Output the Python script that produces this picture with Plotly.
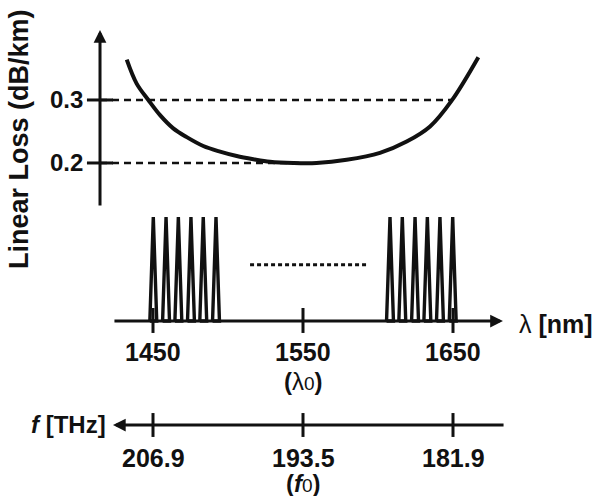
import plotly.graph_objects as go

# ---------------- data ----------------
# Linear loss curve of the fibre (wavelength nm -> loss dB/km)
loss_wl = [1432.5, 1439.1, 1446.9, 1454.7, 1463.5, 1472.5, 1483.5, 1494.7, 1505.8,
           1516.9, 1528.0, 1543.5, 1559.0, 1579.1, 1601.3, 1619.1, 1634.7, 1649.1, 1666.9]
loss_db = [0.364, 0.326, 0.300, 0.276, 0.255, 0.241, 0.227, 0.218, 0.211,
           0.206, 0.202, 0.200, 0.200, 0.205, 0.216, 0.234, 0.258, 0.299, 0.368]

loss_ticks = [0.2, 0.3]
loss_ticktext = ["0.2", "0.3"]
loss_ref_end = [1548.0, 1649.1]      # dashed guides end where they meet the curve

# WDM channels (peak wavelengths, nm) and their relative power
left_channels = [1450.2, 1458.7, 1466.9, 1475.3, 1483.5, 1492.0]
right_channels = [1608.0, 1616.2, 1624.7, 1632.9, 1641.3, 1649.8]
channel_power = 1.0
gap_dots = [1514.7, 1592.7]          # dotted "more channels" span
gap_level = 0.54

wl_ticks = [1450, 1550, 1650]
wl_ticktext = ["1450", "1550", "1650"]
freq_ticktext = ["206.9", "193.5", "181.9"]

# ---------------- layout constants ----------------
X_RANGE = [1348, 1746]
LOSS_RANGE = [-0.3286, 0.4587]
PWR_RANGE = [-1.6827, 3.0865]
LOSS_AXIS_X = 1414.67
LOSS_AXIS_SPAN = [0.130, 0.411]
WL_AXIS_SPAN = [1423.3, 1683.3]
F_AXIS_SPAN = [1423.3, 1684.7]
F_AXIS_Y = -1.0
CH_HALF = 2.3
BLACK = "#111111"
FONT = "Liberation Sans, Arial, sans-serif"

fig = go.Figure()

# loss curve
fig.add_trace(go.Scatter(x=loss_wl, y=loss_db, mode="lines",
                         line=dict(color=BLACK, width=4, shape="spline", smoothing=1.0),
                         yaxis="y", hoverinfo="skip"))
# dashed guide lines
for lv, xe in zip(loss_ticks, loss_ref_end):
    fig.add_trace(go.Scatter(x=[LOSS_AXIS_X, xe], y=[lv, lv], mode="lines",
                             line=dict(color=BLACK, width=2.5, dash="7px,5px"),
                             yaxis="y", hoverinfo="skip"))
# loss tick marks
tx, ty = [], []
for lv in loss_ticks:
    tx += [LOSS_AXIS_X - 8.7, LOSS_AXIS_X + 8.7, None]
    ty += [lv, lv, None]
fig.add_trace(go.Scatter(x=tx, y=ty, mode="lines", line=dict(color=BLACK, width=3),
                         yaxis="y", hoverinfo="skip"))

# channels as narrow triangles
cx, cy = [], []
for c in left_channels + right_channels:
    cx += [c - CH_HALF, c, c + CH_HALF, c - CH_HALF, None]
    cy += [0, channel_power, 0, 0, None]
fig.add_trace(go.Scatter(x=cx, y=cy, mode="lines",
                         line=dict(color=BLACK, width=3.4), yaxis="y2", hoverinfo="skip"))
# dotted gap
fig.add_trace(go.Scatter(x=gap_dots, y=[gap_level, gap_level], mode="lines",
                         line=dict(color=BLACK, width=3, dash="4px,3px"),
                         yaxis="y2", hoverinfo="skip"))
# wavelength ticks and frequency ticks
wx, wy, fx, fy = [], [], [], []
for t in wl_ticks:
    wx += [t, t, None]
    wy += [0.125, -0.115, None]
    fx += [t, t, None]
    fy += [F_AXIS_Y + 0.115, F_AXIS_Y - 0.115, None]
fig.add_trace(go.Scatter(x=wx, y=wy, mode="lines", line=dict(color=BLACK, width=3),
                         yaxis="y2", hoverinfo="skip"))
fig.add_trace(go.Scatter(x=fx, y=fy, mode="lines", line=dict(color=BLACK, width=3),
                         yaxis="y2", hoverinfo="skip"))

ann = []
def arrow(x0, y0, x1, y1, yref):
    ann.append(dict(x=x1, y=y1, ax=x0, ay=y0, xref="x", yref=yref, axref="x", ayref=yref,
                    text="", showarrow=True, arrowhead=2, arrowsize=0.85, arrowwidth=3,
                    arrowcolor=BLACK, standoff=0, startstandoff=0))

arrow(LOSS_AXIS_X, LOSS_AXIS_SPAN[0], LOSS_AXIS_X, LOSS_AXIS_SPAN[1], "y")
arrow(WL_AXIS_SPAN[0], 0, WL_AXIS_SPAN[1], 0, "y2")
arrow(F_AXIS_SPAN[1], F_AXIS_Y, F_AXIS_SPAN[0], F_AXIS_Y, "y2")

def label(text, x, y, yref, size=25, xanchor="center", yanchor="middle", xshift=0, yshift=0,
          xref="x", angle=0):
    ann.append(dict(text=text, x=x, y=y, xref=xref, yref=yref, showarrow=False,
                    xanchor=xanchor, yanchor=yanchor, xshift=xshift, yshift=yshift,
                    textangle=angle,
                    font=dict(family=FONT, size=size, color=BLACK, weight="bold")))

for lv, lt in zip(loss_ticks, loss_ticktext):
    label(lt, LOSS_AXIS_X, lv, "y", size=24, xanchor="right", xshift=-15)
for t, lt in zip(wl_ticks, wl_ticktext):
    label(lt, t, 0, "y2", yshift=-31)
for t, lt in zip(wl_ticks, freq_ticktext):
    label(lt, t, F_AXIS_Y, "y2", yshift=-33)

label("(<span style='font-weight:normal'>λ</span>"
      "<span style='font-size:19px;font-weight:normal'>0</span>)",
      wl_ticks[1], 0, "y2", size=24, yshift=-60)
label("(<i>f</i><span style='font-size:19px;font-weight:normal'>0</span>)",
      wl_ticks[1], F_AXIS_Y, "y2", size=24, yshift=-58)
label("<span style='font-weight:normal'>λ</span> [nm]", WL_AXIS_SPAN[1], 0, "y2",
      size=25, xanchor="left", xshift=14, yshift=-3)
label("<i>f</i> [THz]", F_AXIS_SPAN[0], F_AXIS_Y, "y2", size=24,
      xanchor="right", xshift=-5, yshift=1)
label("Linear Loss (dB/km)", 19 / 597, 1 - 139 / 496, "paper", size=27,
      xref="paper", angle=-90)

fig.update_layout(
    width=597, height=496,
    margin=dict(l=0, r=0, t=0, b=0),
    paper_bgcolor="white", plot_bgcolor="white",
    showlegend=False,
    xaxis=dict(range=X_RANGE, domain=[0, 1], visible=False, fixedrange=True),
    yaxis=dict(range=LOSS_RANGE, domain=[0, 1], visible=False, fixedrange=True),
    yaxis2=dict(range=PWR_RANGE, domain=[0, 1], overlaying="y", visible=False, fixedrange=True),
    annotations=ann,
)

fig.write_html("out.html", config={"displayModeBar": False},
               post_script="document.body.style.margin='0';document.body.style.overflow='hidden';")
